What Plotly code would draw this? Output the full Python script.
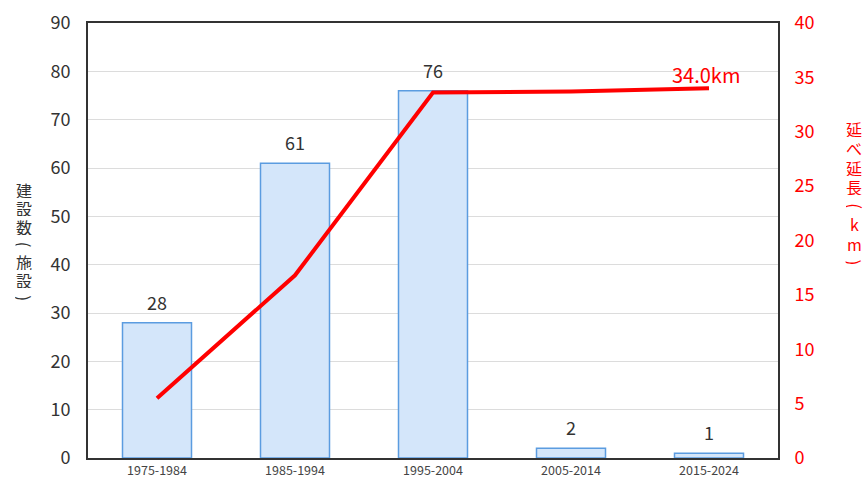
import plotly.graph_objects as go

# Facility construction by decade with cumulative length
periods = ["1975-1984", "1985-1994", "1995-2004", "2005-2014", "2015-2024"]
facility_counts = [28, 61, 76, 2, 1]
total_length_km = [5.5, 16.8, 33.6, 33.7, 34.0]

left_title = ["建", "設", "数", "(", "施", "設", ")"]
right_title = ["延", "べ", "延", "長", "(", "k", "m", ")"]

FONT = "Noto Sans CJK JP"
H = 480
PLOT_TOP, PLOT_BOTTOM = 23, 458

fig = go.Figure()

fig.add_trace(go.Bar(
    x=periods,
    y=facility_counts,
    width=0.5,
    marker=dict(color="#d4e6fa", line=dict(color="#5b9ce0", width=1.5)),
    yaxis="y",
    showlegend=False,
))

fig.add_trace(go.Scatter(
    x=periods,
    y=total_length_km,
    mode="lines",
    line=dict(color="#ff0000", width=4),
    yaxis="y2",
    showlegend=False,
))

# value labels above each bar
for p, v in zip(periods, facility_counts):
    fig.add_annotation(
        x=p, y=v, yref="y", text=str(v), showarrow=False,
        yanchor="middle", yshift=21,
        font=dict(size=18, color="#333333", family=FONT),
    )

# label on the last point of the length series
fig.add_annotation(
    x=periods[-1], y=total_length_km[-1], yref="y2",
    text=f"{total_length_km[-1]:.1f}km",
    showarrow=False, yshift=14, xshift=-3,
    font=dict(size=20, color="#ff0000", family=FONT),
)


def paper_y(py):
    # convert a pixel row to paper coordinates of the plot area
    return (PLOT_BOTTOM - py) / (PLOT_BOTTOM - PLOT_TOP)


def paper_x(px):
    return (px - 88) / (778 - 88)


def stacked_title(chars, x_px, y_start, step, color):
    # one upright character per row; brackets are turned to run vertically
    y = y_start
    for ch in chars:
        is_bracket = ch in "()"
        fig.add_annotation(
            xref="paper", yref="paper", x=paper_x(x_px), y=paper_y(y),
            text=ch, showarrow=False, textangle=90 if is_bracket else 0,
            xanchor="center", yanchor="middle", height=17,
            font=dict(size=18 if is_bracket else 16, color=color, family=FONT),
        )
        y += step * (0.9 if is_bracket else 1.0)


stacked_title(left_title, 24, 189, 18.5, "#333333")
stacked_title(right_title, 854, 128, 19.5, "#ff0000")

fig.update_layout(
    width=866, height=H,
    margin=dict(l=88, r=88, t=PLOT_TOP, b=H - PLOT_BOTTOM),
    plot_bgcolor="white", paper_bgcolor="white",
    font=dict(family=FONT),
    xaxis=dict(
        showline=True, linecolor="#333333", linewidth=2, mirror=True,
        tickfont=dict(size=12.5, color="#444444"),
        ticks="", showgrid=False, automargin=False,
    ),
    yaxis=dict(
        range=[0, 90], dtick=10,
        showline=True, linecolor="#333333", linewidth=2, mirror=True,
        gridcolor="#dcdcdc", gridwidth=1,
        tickfont=dict(size=18, color="#333333"),
        ticks="outside", ticklen=12, tickcolor="rgba(0,0,0,0)",
        zeroline=False, automargin=False,
    ),
    yaxis2=dict(
        range=[0, 40], dtick=5, overlaying="y", side="right",
        showgrid=False, zeroline=False,
        tickfont=dict(size=18, color="#ff0000"),
        ticks="outside", ticklen=12, tickcolor="rgba(0,0,0,0)",
        automargin=False,
    ),
)

fig.write_html("out.html")
